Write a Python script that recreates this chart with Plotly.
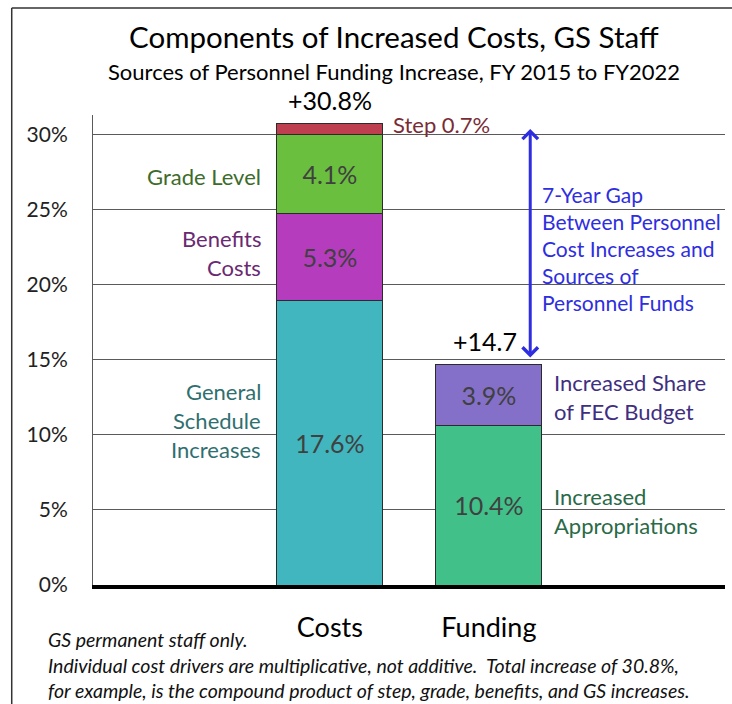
import plotly.graph_objects as go

# stacked segment heights (percent points)
cost_parts = ["General Schedule Increases", "Benefits Costs", "Grade Level", "Step"]
cost_heights = [18.95, 5.83, 5.24, 0.76]
cost_labels = ["17.6%", "5.3%", "4.1%", ""]
cost_colors = ["#41b6be", "#b53dbd", "#6abf3f", "#be3f4f"]

fund_parts = ["Increased Appropriations", "Increased Share of FEC Budget"]
fund_heights = [10.6, 4.07]
fund_labels = ["10.4%", "3.9%"]
fund_colors = ["#42c08a", "#8470c8"]

categories = ["Costs", "Funding"]
totals = ["+30.8%", "+14.7"]

FONT = "Lato"
BLUE = "#2e2ee0"

fig = go.Figure()

for name, h, lab, col in zip(cost_parts, cost_heights, cost_labels, cost_colors):
    fig.add_trace(go.Bar(x=[0], y=[h], name=name, width=0.667, marker_color=col,
                         marker_line=dict(color="#2b2b2b", width=1),
                         text=[lab], textposition="inside", insidetextanchor="middle",
                         textfont=dict(family=FONT, size=25, color="#404040")))

for name, h, lab, col in zip(fund_parts, fund_heights, fund_labels, fund_colors):
    fig.add_trace(go.Bar(x=[1], y=[h], name=name, width=0.667, marker_color=col,
                         marker_line=dict(color="#2b2b2b", width=1),
                         text=[lab], textposition="inside", insidetextanchor="middle",
                         textfont=dict(family=FONT, size=25, color="#404040")))

annos = []

# totals above bars
annos.append(dict(x=0, y=sum(cost_heights), text=totals[0], showarrow=False,
                  yanchor="bottom", yshift=6, font=dict(family=FONT, size=25, color="black")))
annos.append(dict(x=1, y=sum(fund_heights), text=totals[1], showarrow=False, xshift=-4,
                  yanchor="bottom", yshift=7, font=dict(family=FONT, size=25, color="black")))


def lines(x, y, rows, color, anchor, size=22, gap=29):
    for i, r in enumerate(rows):
        annos.append(dict(x=x, y=y, text=r, showarrow=False, xanchor=anchor, yanchor="middle",
                          yshift=-i * gap, font=dict(family=FONT, size=size, color=color)))


lines(-0.421, 27.2, ["Grade Level"], "#3d6b2a", "right")
lines(-0.421, 23.13, ["Benefits", "Costs"], "#6a2a72", "right")
lines(-0.421, 12.87, ["General", "Schedule", "Increases"], "#2f6f6f", "right")
lines(0.384, 30.73, ["Step 0.7%"], "#7a2c36", "left")
lines(1.397, 13.47, ["Increased Share", "of FEC Budget"], "#3f2f80", "left")
lines(1.397, 5.93, ["Increased", "Appropriations"], "#2a6a48", "left")
lines(1.321, 26.0, ["7-Year Gap", "Between Personnel", "Cost Increases and",
                    "Sources of", "Personnel Funds"], BLUE, "left", size=21, gap=27)

# gap arrow
annos.append(dict(x=1.26, y=30.4, ax=1.26, ay=15.07, axref="x", ayref="y", text="",
                  showarrow=True, arrowside="end+start", arrowhead=4, arrowsize=1,
                  arrowwidth=3, arrowcolor=BLUE))

# titles
annos.append(dict(xref="paper", yref="paper", x=0.4757, y=1.166, yanchor="middle",
                  text="Components of Increased Costs, GS Staff",
                  showarrow=False, font=dict(family=FONT, size=29.5, color="black")))
annos.append(dict(xref="paper", yref="paper", x=0.4757, y=1.0915, yanchor="middle",
                  text="Sources of Personnel Funding Increase, FY 2015 to FY2022",
                  showarrow=False, font=dict(family=FONT, size=22, color="black")))

# footnote
notes = ["GS permanent staff only.",
         "Individual cost drivers are multiplicative, not additive.  Total increase of 30.8%,",
         "for example, is the compound product of step, grade, benefits, and GS increases."]
for t, py in zip(notes, [639, 665, 690]):
    annos.append(dict(xref="paper", yref="paper", x=-0.0736, y=(585 - py) / 470, text="<i>" + t + "</i>",
                      showarrow=False, xanchor="left", yanchor="middle",
                      font=dict(family=FONT, size=19.5, color="#111111")))

fig.update_layout(
    width=732, height=704,
    margin=dict(l=93, r=7, t=115, b=119),
    barmode="stack", showlegend=False,
    plot_bgcolor="white", paper_bgcolor="white",
    annotations=annos,
    uniformtext=dict(minsize=10, mode="show"),
    shapes=[
        dict(type="line", xref="paper", yref="paper", x0=-0.1286, x1=1.05, y0=1.2277, y1=1.2277,
             line=dict(color="#333333", width=1.5)),
        dict(type="line", xref="paper", yref="paper", x0=-0.1286, x1=-0.1286, y0=1.2277, y1=-0.3,
             line=dict(color="#333333", width=1.5)),
    ],
)

fig.update_yaxes(range=[0, 31.33], dtick=5, ticksuffix="%", showgrid=True, gridcolor="#5a5a5a",
                 gridwidth=1, zeroline=False, showline=True, linecolor="#5a5a5a", linewidth=1,
                 ticks="outside", ticklen=20, tickcolor="rgba(0,0,0,0)",
                 tickfont=dict(family=FONT, size=21, color="#222222"))
fig.update_xaxes(range=[-1.49, 2.485], tickvals=[0, 1], ticktext=categories, showgrid=False,
                 zeroline=False, showline=True, linecolor="black", linewidth=4,
                 ticks="outside", ticklen=16, tickcolor="rgba(0,0,0,0)",
                 tickfont=dict(family=FONT, size=27, color="black"))

fig.write_html("out.html", config={"displayModeBar": False},
               post_script="document.body.style.margin='0';document.body.style.overflow='hidden';"
                           "document.documentElement.style.overflow='hidden';")
